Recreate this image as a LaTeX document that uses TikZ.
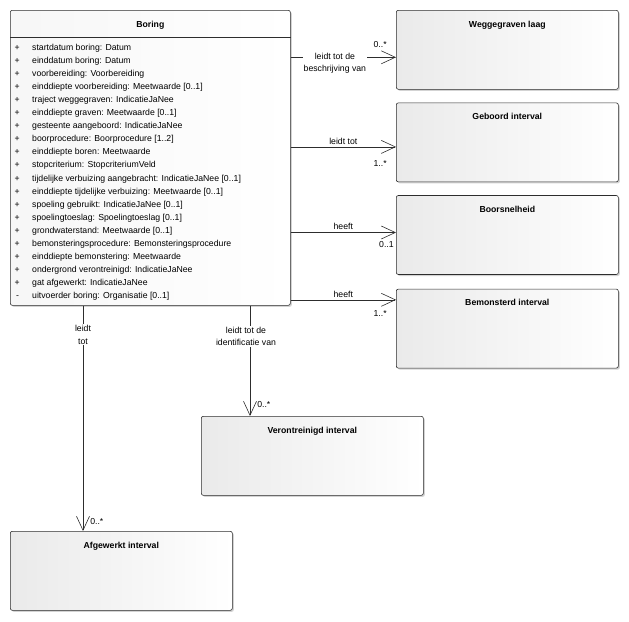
\documentclass[tikz,border=0pt]{standalone}
\usepackage{fontspec}
\setmainfont{Liberation Sans}
\usepackage{tikz}
\usetikzlibrary{shapes,arrows.meta,positioning,shadows}
\definecolor{UMLLine}{RGB}{45, 45, 45}
\definecolor{UMLFill}{RGB}{234, 234, 234}
\definecolor{UMLShadow}{RGB}{200, 200, 200}
\newcommand{\attr}[2]{\makebox[17.5pt][l]{#1}#2}

\begin{document}
\begin{tikzpicture}[x=1pt, y=-1pt, node distance=13pt, font=\fontsize{8.7}{13.05}\selectfont]
  \tikzstyle{classbox} = [rectangle, draw=UMLLine, left color=UMLFill, right color=white, rounded corners=2pt, minimum width=222pt, minimum height=79pt, inner sep=0pt, line width=0.6pt, drop shadow={shadow xshift=1.5pt, shadow yshift=-1.5pt, fill=UMLShadow, opacity=0.8}]
  \tikzstyle{title} = [font=\fontsize{8.7}{10}\selectfont\bfseries, anchor=north, yshift=-8.5pt, inner sep=2pt]
  \tikzstyle{attrlist} = [align=left, inner sep=0pt, anchor=north west]
  \tikzstyle{assoc} = [draw=UMLLine, -{Straight Barb[length=14pt, width=13pt]}, line width=0.6pt]
  \tikzstyle{lbl} = [fill=white, inner sep=1pt, align=center, font=\fontsize{8.7}{12.5}\selectfont]
  \tikzstyle{mult} = [inner sep=1pt]

  \useasboundingbox (0,0) rectangle (629,621);

  % classes
  \node [classbox, minimum width=280pt, minimum height=295pt, left color=UMLFill!40, anchor=north west] (boring) at (10,10) {};
  \node [title] (boring-title) at (boring.north) {Boring};
  \coordinate (boring-sep) at ([yshift=-27pt]boring.north);
  \draw [draw=UMLLine, line width=0.6pt] (boring.west |- boring-sep) -- (boring.east |- boring-sep);
  \node [attrlist] (boring-attrs) at ([xshift=4.5pt, yshift=-34pt]boring.north west) {%
    \attr{+}{startdatum boring: Datum}\\
    \attr{+}{einddatum boring: Datum}\\
    \attr{+}{voorbereiding: Voorbereiding}\\
    \attr{+}{einddiepte voorbereiding: Meetwaarde [0..1]}\\
    \attr{+}{traject weggegraven: IndicatieJaNee}\\
    \attr{+}{einddiepte graven: Meetwaarde [0..1]}\\
    \attr{+}{gesteente aangeboord: IndicatieJaNee}\\
    \attr{+}{boorprocedure: Boorprocedure [1..2]}\\
    \attr{+}{einddiepte boren: Meetwaarde}\\
    \attr{+}{stopcriterium: StopcriteriumVeld}\\
    \attr{+}{tijdelijke verbuizing aangebracht: IndicatieJaNee [0..1]}\\
    \attr{+}{einddiepte tijdelijke verbuizing: Meetwaarde [0..1]}\\
    \attr{+}{spoeling gebruikt: IndicatieJaNee [0..1]}\\
    \attr{+}{spoelingtoeslag: Spoelingtoeslag [0..1]}\\
    \attr{+}{grondwaterstand: Meetwaarde [0..1]}\\
    \attr{+}{bemonsteringsprocedure: Bemonsteringsprocedure}\\
    \attr{+}{einddiepte bemonstering: Meetwaarde}\\
    \attr{+}{ondergrond verontreinigd: IndicatieJaNee}\\
    \attr{+}{gat afgewerkt: IndicatieJaNee}\\
    \attr{\,-}{uitvoerder boring: Organisatie [0..1]}};

  \node [classbox, anchor=north west] (wegg) at (396,10) {};
  \node [title] (wegg-title) at (wegg.north) {Weggegraven laag};
  \node [classbox, below=of wegg] (geboord) {};
  \node [title] (geboord-title) at (geboord.north) {Geboord interval};
  \node [classbox, below=of geboord] (boorsn) {};
  \node [title] (boorsn-title) at (boorsn.north) {Boorsnelheid};
  \node [classbox, below=14pt of boorsn] (bemon) {};
  \node [title] (bemon-title) at (bemon.north) {Bemonsterd interval};
  \node [classbox, anchor=north west] (veront) at (201,416) {};
  \node [title] (veront-title) at (veront.north) {Verontreinigd interval};
  \node [classbox, anchor=north west] (afgew) at (10,531) {};
  \node [title] (afgew-title) at (afgew.north) {Afgewerkt interval};

  % associations
  \coordinate (wegg-in) at ([yshift=-7.5pt]wegg.west);
  \coordinate (geboord-in) at ([yshift=-4.5pt]geboord.west);
  \coordinate (boorsn-in) at ([yshift=2.5pt]boorsn.west);
  \coordinate (bemon-in) at ([yshift=-11pt]bemon.north west);
  \coordinate (veront-in) at ([xshift=49pt]veront.north west);
  \coordinate (afgew-in) at ([xshift=73pt]afgew.north west);

  \path [assoc] (boring.east |- wegg-in) -- node [lbl, pos=0.42, anchor=north, yshift=5.5pt] {leidt tot de\\beschrijving van} node [mult, pos=1, anchor=south east, xshift=-8pt, yshift=8pt] {0..*} (wegg-in);
  \path [assoc] (boring.east |- geboord-in) -- node [above, pos=0.5, yshift=-1pt] {leidt tot} node [mult, pos=1, anchor=north east, xshift=-8pt, yshift=-12pt] {1..*} (geboord-in);
  \path [assoc] (boring.east |- boorsn-in) -- node [above, pos=0.5, yshift=-1pt] {heeft} node [mult, pos=1, anchor=north east, xshift=-1pt, yshift=-8pt] {0..1} (boorsn-in);
  \path [assoc] (boring.east |- bemon-in) -- node [above, pos=0.5, yshift=-1pt] {heeft} node [mult, pos=1, anchor=north east, xshift=-8pt, yshift=-9pt] {1..*} (bemon-in);
  \path [assoc] (boring.south -| veront-in) -- node [lbl, pos=0.28, xshift=-4pt] {leidt tot de\\identificatie van} node [mult, pos=1, anchor=south west, xshift=6pt, yshift=7pt] {0..*} (veront-in);
  \path [assoc] (boring.south -| afgew-in) -- node [lbl, pos=0.13] {leidt\\tot} node [mult, pos=1, anchor=south west, xshift=6pt, yshift=5pt] {0..*} (afgew-in);
\end{tikzpicture}
\end{document}
